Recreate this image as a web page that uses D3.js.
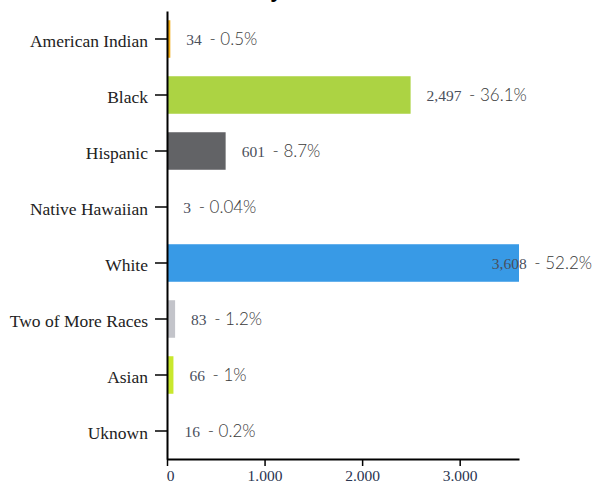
<!DOCTYPE html>
<html>
<head>
<meta charset="utf-8">
<script src="https://cdn.jsdelivr.net/npm/d3@7"></script>
<style>
  body { margin: 0; background: #fff; }
  .axis path, .axis line { stroke: #000; }
  .axis path { stroke-width: 2px; }
  .axis line { stroke-width: 1.5px; }
  .serif { font-family: 'Liberation Serif', 'Times New Roman', 'DejaVu Serif', serif; }
  .pct { font-family: Lato, 'Open Sans', sans-serif; font-weight: 300; font-size: 17px; }
</style>
</head>
<body>
<script>
const categories = ['American Indian', 'Black', 'Hispanic', 'Native Hawaiian', 'White', 'Two of More Races', 'Asian', 'Uknown'];
const counts = [34, 2497, 601, 3, 3608, 83, 66, 16];
const percents = ['0.5%', '36.1%', '8.7%', '0.04%', '52.2%', '1.2%', '1%', '0.2%'];
const colors = ['#eea80f', '#acd343', '#626366', '#e0e0e0', '#389ae6', '#c3c4ca', '#c9e82d', '#f4f4f4'];
const xTicks = [0, 1000, 2000, 3000];

const width = 595, height = 485;

const svg = d3.select('body')
  .append('svg')
  .attr('width', width)
  .attr('height', height);

// title sits mostly above the visible area
svg.append('text')
  .attr('x', 236)
  .attr('y', -3)
  .attr('text-anchor', 'middle')
  .attr('font-family', 'Liberation Sans, sans-serif')
  .attr('font-weight', 'bold')
  .attr('font-size', 22)
  .text('Ethnicity');

const x = d3.scaleLinear()
  .domain([0, d3.max(counts)])
  .range([167, 519]);

const y = d3.scaleBand()
  .domain(categories)
  .range([11, 459])
  .paddingInner(0.33)
  .paddingOuter(0.165);

svg.append('g')
  .attr('class', 'bars')
  .selectAll('rect')
  .data(categories)
  .join('rect')
  .attr('x', x(0))
  .attr('y', d => y(d))
  .attr('width', (d, i) => x(counts[i]) - x(0))
  .attr('height', y.bandwidth())
  .attr('fill', (d, i) => colors[i]);

const yAxis = svg.append('g')
  .attr('class', 'axis')
  .attr('transform', `translate(${x(0)},0)`)
  .call(d3.axisLeft(y).tickSize(12).tickSizeOuter(0).tickPadding(7));

yAxis.attr('font-family', null).attr('font-size', null);
yAxis.selectAll('text')
  .attr('class', 'serif')
  .attr('font-size', 17.5)
  .attr('fill', '#222')
  .attr('dy', '0.45em');

const xAxis = svg.append('g')
  .attr('class', 'axis')
  .attr('transform', `translate(0,459)`)
  .call(d3.axisBottom(x).tickValues(xTicks).tickSize(7).tickSizeOuter(0).tickPadding(4));

xAxis.attr('font-family', null).attr('font-size', null);
xAxis.selectAll('text')
  .attr('class', 'serif')
  .attr('font-size', 15.5)
  .attr('fill', '#2a3550')
  .text(d => d3.format(',')(d).replace(',', '.'));

xAxis.selectAll('.tick').filter(d => d === 0).select('text').attr('dx', '3');

const labels = svg.append('g')
  .attr('class', 'labels')
  .selectAll('text')
  .data(categories)
  .join('text')
  .attr('y', d => y(d) + y.bandwidth() / 2)
  .attr('dy', '0.35em');

labels.append('tspan')
  .attr('class', 'serif')
  .attr('font-size', 15.5)
  .attr('fill', '#4a4f5c')
  .text((d, i) => d3.format(',')(counts[i]));

labels.append('tspan')
  .attr('class', 'pct')
  .attr('fill', '#3a3a3a')
  .attr('dx', 3)
  .attr('xml:space', 'preserve')
  .text((d, i) => ' - ' + percents[i]);

labels.each(function (d, i) {
  const w = this.getBBox().width;
  const lx = Math.min(x(counts[i]) + 16, width - w - 3);
  d3.select(this).attr('x', lx);
});
</script>
</body>
</html>
